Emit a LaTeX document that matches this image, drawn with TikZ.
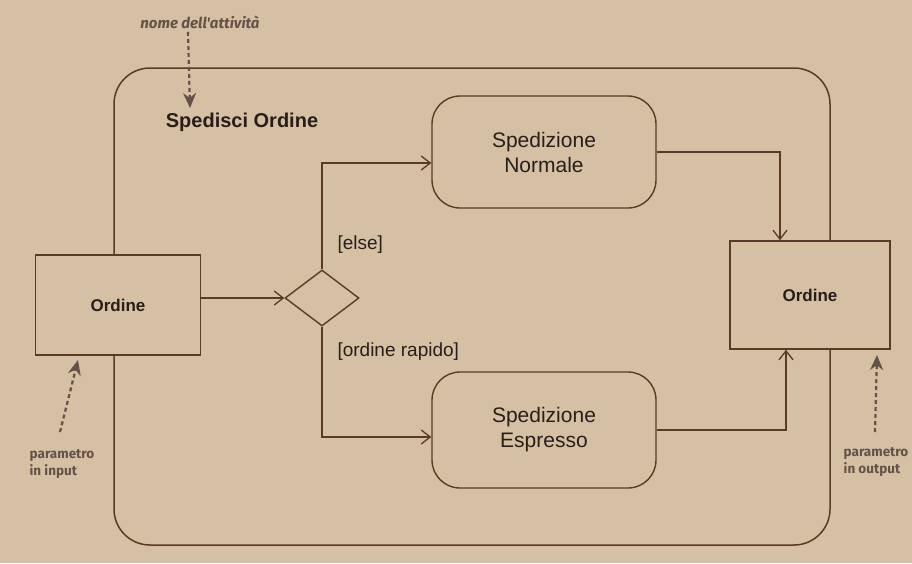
\documentclass[tikz,border=0pt]{standalone}
\usepackage{fontspec}
\setmainfont{Liberation Sans}
\newfontfamily\notefont{Fira Sans}
\usetikzlibrary{arrows.meta,shapes.geometric,positioning}
\definecolor{paper}{RGB}{214,192,164}
\definecolor{ink}{RGB}{88,58,40}
\definecolor{txt}{RGB}{40,30,25}
\definecolor{note}{RGB}{100,82,72}
\tikzset{
  flow/.style={draw=ink,line width=1.4pt,-{Straight Barb[length=9pt,width=14pt,line width=1.3pt]}},
  pinbox/.style={draw=ink,fill=paper,line width=1.5pt,minimum width=165pt,minimum height=100pt,font=\bfseries\fontsize{17}{20}\selectfont,text=txt},
  action/.style={draw=ink,line width=1.4pt,rounded corners=28pt,minimum width=224pt,minimum height=112pt,align=center,font=\fontsize{21}{25}\selectfont,text=txt},
  decision/.style={draw=ink,line width=1.4pt,diamond,minimum width=74pt,minimum height=56pt,inner sep=0pt},
  guard/.style={font=\fontsize{19}{22}\selectfont,text=txt,anchor=west},
  notetext/.style={font=\notefont\bfseries\fontsize{13.5}{17}\selectfont,text=note,align=left},
  notearrow/.style={draw=note,line width=2.2pt,dash pattern=on 4pt off 3pt,-{Stealth[length=15pt,width=13pt]}}
}
\begin{document}
\begin{tikzpicture}[x=1pt,y=-1pt]
\fill[paper] (0,0) rectangle (912,563);
\useasboundingbox (0,0) rectangle (912,563);
% activity frame
\draw[ink,line width=1.5pt,rounded corners=36pt] (114,68) rectangle (830,545);
\node[font=\bfseries\fontsize{20}{24}\selectfont,text=txt] (title) at (242,122) {Spedisci Ordine};
% nodes
\node[pinbox] (in) at (118,305) {Ordine};
\node[pinbox,minimum width=160pt,minimum height=108pt] (out) at (810,295) {Ordine};
\node[decision] (dec) at (322,298) {};
\node[action] (norm) at (544,152) {Spedizione\\Normale};
\node[action,minimum height=116pt] (expr) at (544,430) {Spedizione\\Espresso};
% connectors
\draw[flow] (in.east |- dec.west) -- (dec.west);
\draw[flow] (dec.north) |- (norm.west |- 0,163);
\draw[flow] (dec.south) |- (expr.west |- 0,437);
\draw[flow] (norm.east) -| (out.north -| 780,0);
\draw[flow] (expr.east) -| (out.south -| 786,0);
% guards
\node[guard] (g1) at (334,245) {[else]};
\node[guard] (g2) at (334,352) {[ordine rapido]};
% annotations
\node[notetext,font=\notefont\itshape\bfseries\fontsize{15}{18}\selectfont] (n1) at (200,22) {nome dell'attività};
\coordinate (n1e) at (190,108);
\draw[notearrow] (n1.south -| 188,0) -- (n1e);
\node[notetext] (n2) at (62,464) {parametro\\in input};
\coordinate (n2e) at (78,360);
\draw[notearrow] (60,432) -- (n2e);
\node[notetext] (n3) at (876,462) {parametro\\in output};
\coordinate (n3e) at (877,355);
\draw[notearrow] (875,432) -- (n3e);
\end{tikzpicture}
\end{document}
